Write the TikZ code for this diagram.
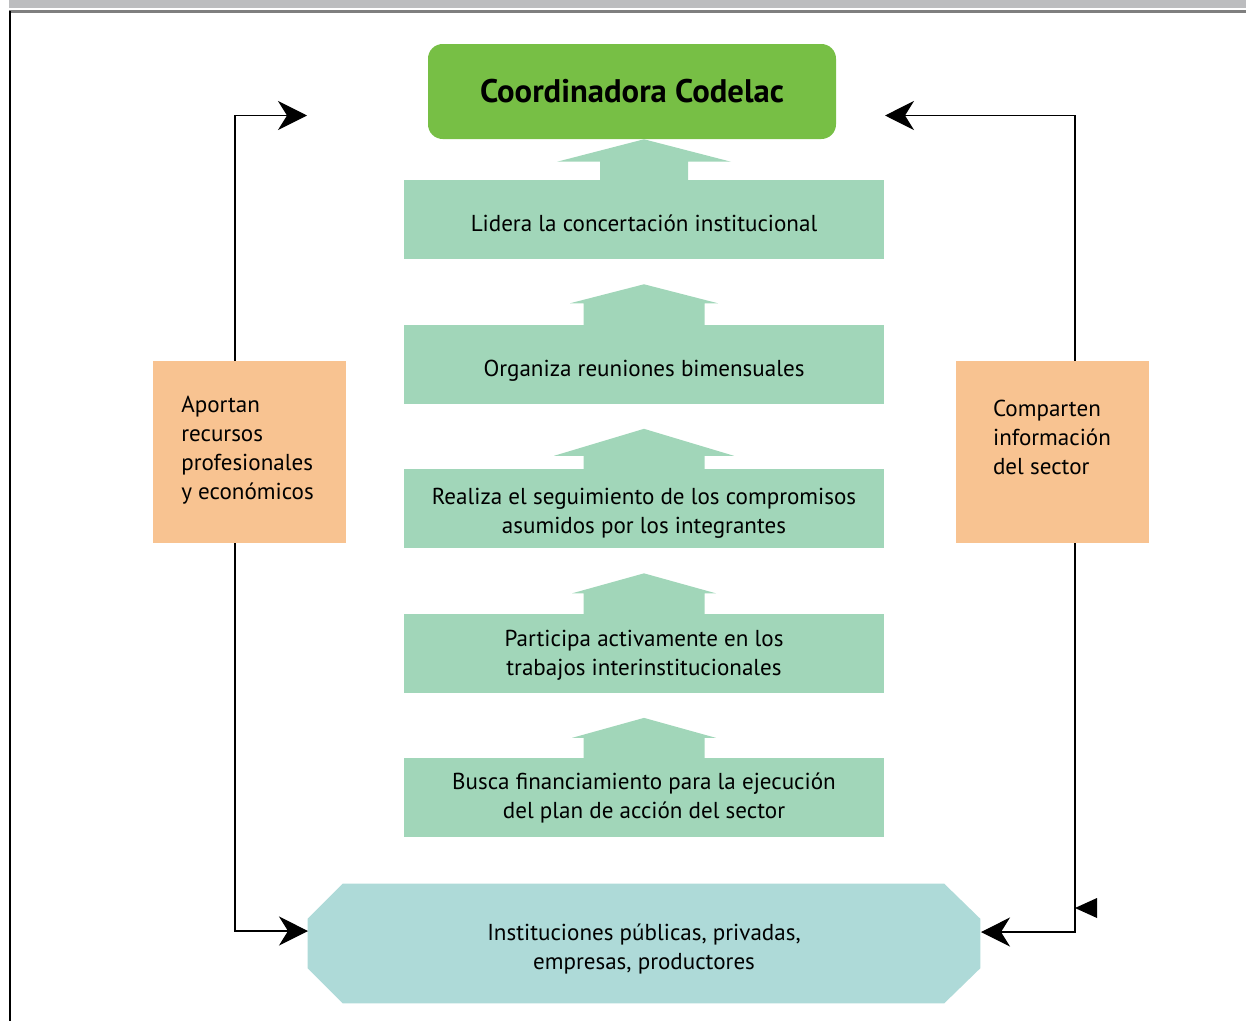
\documentclass[tikz,border=0pt]{standalone}
\usepackage{fontspec}
\setmainfont{PT Sans}
\usetikzlibrary{positioning}
\usetikzlibrary{arrows.meta}
\usetikzlibrary{calc}

\definecolor{topgreen}{HTML}{77BF45}
\definecolor{stepgreen}{HTML}{A1D6B9}
\definecolor{sideorange}{HTML}{F8C391}
\definecolor{instblue}{HTML}{AEDAD8}
\definecolor{bargray}{HTML}{BCBDBF}
\definecolor{rulegray}{HTML}{7F7F7F}

\begin{document}
\begin{tikzpicture}[x=0.75pt,y=-0.75pt,
	stepbox/.style={fill=stepgreen, minimum width=360pt, minimum height=59.25pt, inner sep=0pt},
	steptext/.style={align=center, inner sep=0pt, font=\fontsize{17.3pt}{21.75pt}\selectfont},
	sidebox/.style={fill=sideorange, minimum width=144.75pt, minimum height=136.5pt, inner sep=0pt},
	sidetext/.style={align=left, inner sep=0pt, font=\fontsize{17.3pt}{21.75pt}\selectfont},
	link/.style={draw, line width=0.9pt, -{Stealth[length=21.75pt, width=21.75pt, inset=6.75pt]}}]
	\useasboundingbox (0,0) rectangle (1246,1021);
	% frame
	\fill[bargray] (9,0) rectangle (1246,8);
	\draw[rulegray, line width=1.6pt] (9,11.5) -- (1246,11.5);
	\draw[line width=1.1pt] (10,11) -- (10,1021);
	% boxes
	\node [fill=topgreen, rounded corners=11pt, minimum width=306pt, minimum height=71.25pt, font=\fontsize{24.5pt}{28pt}\selectfont\bfseries] (codelac) at (632,91.5) {Coordinadora Codelac};
	\node [stepbox] (s1) at (644,219.5) {};
	\node [stepbox, below=48.75pt of s1] (s2) {};
	\node [stepbox, below=48.75pt of s2] (s3) {};
	\node [stepbox, below=48.75pt of s3] (s4) {};
	\node [stepbox, below=48.75pt of s4] (s5) {};
	\node [steptext, yshift=-3pt] (t1) at (s1) {Lidera la concertación institucional};
	\node [steptext, yshift=-5pt] (t2) at (s2) {Organiza reuniones bimensuales};
	\node [steptext, yshift=-3.75pt] (t3) at (s3) {Realiza el seguimiento de los compromisos\\asumidos por los integrantes};
	\node [steptext, yshift=-1.5pt] (t4) at (s4) {Participa activamente en los\\trabajos interinstitucionales};
	\node [steptext] (t5) at (s5) {Busca financiamiento para la ejecución\\del plan de acción del sector};
	\node [sidebox] (aport) at (249.5,452) {};
	\node [sidebox] (compar) at (1052,452) {};
	\node [sidetext] (aportT) at (247.5,450.5) {Aportan\\recursos\\profesionales\\y económicos};
	\node [sidetext] (comparT) at (1052,437) {Comparten\\información\\del sector};
	\node [minimum width=504pt, minimum height=89.25pt, inner sep=0pt] (inst) at (644,943.5) {};
	\fill[instblue] ([xshift=26.25pt]inst.north west) -- ([xshift=-27pt]inst.north east) -- ([yshift=-26.25pt]inst.north east) -- ([yshift=26.25pt]inst.south east) -- ([xshift=-27pt]inst.south east) -- ([xshift=26.25pt]inst.south west) -- ([yshift=26.25pt]inst.south west) -- ([yshift=-26.25pt]inst.north west) -- cycle;
	\node [steptext] (instT) at (644,948.5) {Instituciones públicas, privadas,\\empresas, productores};
	% up arrows
	\foreach \lo/\hi/\gp/\nk/\hw/\sw in {s1/codelac/0/18/87/44, s2/s1/25/21/74/60.5, s3/s2/25/13/90/60.5, s4/s3/25/20/72/60.5, s5/s4/25/20/72/60.5}
		\fill[stepgreen] ($(\lo.north)+(-\sw,0.5)$) -- ($(\lo.north)+(-\sw,-\nk)$) -- ($(\lo.north)+(-\hw,-\nk)$) -- ($(\hi.south -| \lo.north)+(0,\gp)$) -- ($(\lo.north)+(\hw,-\nk)$) -- ($(\lo.north)+(\sw,-\nk)$) -- ($(\lo.north)+(\sw,0.5)$) -- cycle;
	% connectors
	\coordinate (lx) at (235,0);
	\coordinate (rx) at (1075,0);
	\coordinate (ltop) at (307,115.5);
	\coordinate (lbot) at (308,931);
	\coordinate (rtop) at (885,115.5);
	\coordinate (rbot) at (981,932);
	\draw[link] (aport.north -| lx) |- (ltop);
	\draw[link] (aport.south -| lx) |- (lbot);
	\draw[link] (compar.north -| rx) |- (rtop);
	\draw[link] (compar.south -| rx) |- (rbot);
	\fill (1075,908) -- (1097,898) -- (1097,918) -- cycle;
\end{tikzpicture}
\end{document}
